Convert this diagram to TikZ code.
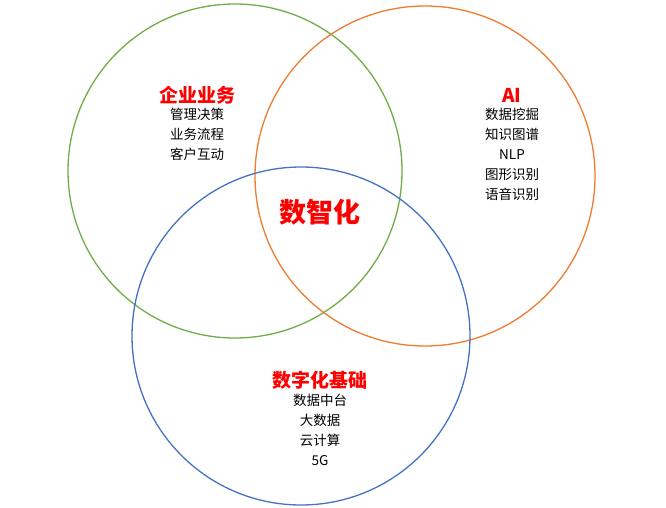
\documentclass[tikz,border=0pt]{standalone}
\usepackage{fontspec}
\setmainfont{Noto Sans CJK SC}
\definecolor{cg}{HTML}{70AD47}
\definecolor{co}{HTML}{ED7D31}
\definecolor{cb}{HTML}{4472C4}
\begin{document}
\begin{tikzpicture}[x=1pt,y=-1pt,
  ring/.style={line width=1.3pt},
  head/.style={text=red,font=\fontsize{19}{21}\selectfont\bfseries},
  item/.style={font=\fontsize{13.5}{15}\selectfont,align=center}]
\useasboundingbox (0,0) rectangle (666,508);
\draw[ring,draw=cg] (235,171) circle (167);
\draw[ring,draw=co] (425,176) circle (170);
\draw[ring,draw=cb] (301,336) circle (169);
\node[head] (h1) at (197,95) {企业业务};
\node[item,anchor=north] (t1) at (197,105) {管理决策\\[5pt]业务流程\\[5pt]客户互动};
\node[head] (h2) at (512,95) {AI};
\node[item,anchor=north] (t2) at (512,105) {数据挖掘\\[5pt]知识图谱\\[5pt]NLP\\[5pt]图形识别\\[5pt]语音识别};
\node[text=red,font=\fontsize{27}{29}\selectfont\bfseries] (c) at (320,212) {数智化};
\node[head] (h3) at (320,380) {数字化基础};
\node[item,anchor=north] (t3) at (320,391) {数据中台\\[5pt]大数据\\[5pt]云计算\\[5pt]5G};
\end{tikzpicture}
\end{document}
